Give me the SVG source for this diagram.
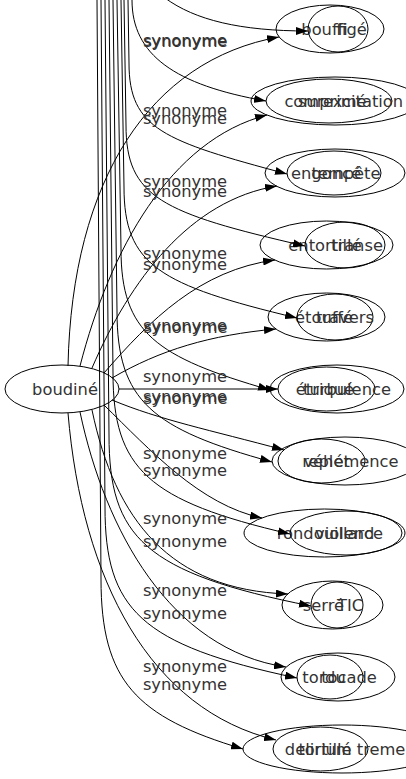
<svg xmlns="http://www.w3.org/2000/svg" width="406" height="779" viewBox="0 0 406 779">
<defs>
<marker id="ah" viewBox="0 0 12 8" refX="12" refY="4" markerWidth="12" markerHeight="8" markerUnits="userSpaceOnUse" orient="auto"><path d="M0,0 L12,4 L0,8 z" fill="#000"/></marker>
<style>
.n ellipse{fill:none;stroke:#000;stroke-width:1}
text{font-family:"DejaVu Sans",sans-serif;font-size:16.3px;fill:#333;text-anchor:middle}
#edges path{fill:none;stroke:#000;stroke-width:1;marker-end:url(#ah)}
</style>
</defs>
<rect width="406" height="779" fill="#fff"/>
<g id="nodes">
<g class="n" id="n-boudine"><ellipse cx="62" cy="389" rx="57" ry="24"/><text x="65" y="395">boudiné</text></g>
<g class="n" id="n-bouffi"><ellipse cx="330" cy="29" rx="54" ry="24"/><text x="324.5" y="35">bouffi</text></g>
<g class="n" id="n-fige"><ellipse cx="338" cy="29" rx="30" ry="23"/><text x="351.5" y="35">figé</text></g>
<g class="n" id="n-comprime"><ellipse cx="335" cy="101" rx="84" ry="24"/><text x="325.5" y="107">comprimé</text></g>
<g class="n" id="n-surexcitation"><ellipse cx="329" cy="101" rx="63" ry="22"/><text x="350.5" y="107">surexcitation</text></g>
<g class="n" id="n-engonce"><ellipse cx="335" cy="173" rx="70" ry="24"/><text x="326" y="179">engoncé</text></g>
<g class="n" id="n-tempete"><ellipse cx="334" cy="173" rx="47" ry="22"/><text x="346" y="179">tempête</text></g>
<g class="n" id="n-entortille"><ellipse cx="326.5" cy="245" rx="66.5" ry="24"/><text x="325" y="251">entortillé</text></g>
<g class="n" id="n-transe"><ellipse cx="345" cy="245" rx="40" ry="23"/><text x="357" y="251">transe</text></g>
<g class="n" id="n-etouffe"><ellipse cx="326.5" cy="317" rx="58.5" ry="24"/><text x="324" y="323">étouffé</text></g>
<g class="n" id="n-travers"><ellipse cx="335" cy="317" rx="38" ry="23"/><text x="345" y="323">travers</text></g>
<g class="n" id="n-etrique"><ellipse cx="326.5" cy="389" rx="48.5" ry="22"/><text x="325" y="395">étriqué</text></g>
<g class="n" id="n-turbulence"><ellipse cx="337" cy="389" rx="67" ry="24"/><text x="347" y="395">turbulence</text></g>
<g class="n" id="n-replet"><ellipse cx="321.5" cy="461" rx="43.5" ry="22"/><text x="326" y="467">replet</text></g>
<g class="n" id="n-vehemence"><ellipse cx="345" cy="461" rx="73" ry="24"/><text x="351" y="467">véhémence</text></g>
<g class="n" id="n-rondouillard"><ellipse cx="324.5" cy="533" rx="80.5" ry="24"/><text x="325.5" y="539">rondouillard</text></g>
<g class="n" id="n-violence"><ellipse cx="346" cy="533" rx="56" ry="22"/><text x="349" y="539">violence</text></g>
<g class="n" id="n-serre"><ellipse cx="332.5" cy="605" rx="50.5" ry="24"/><text x="323.5" y="611">serré</text></g>
<g class="n" id="n-tic"><ellipse cx="337" cy="605" rx="26" ry="23"/><text x="350" y="611">TIC</text></g>
<g class="n" id="n-tordu"><ellipse cx="338" cy="677" rx="57" ry="24"/><text x="324" y="683">tordu</text></g>
<g class="n" id="n-tocade"><ellipse cx="330" cy="677" rx="33" ry="22"/><text x="349" y="683">tocade</text></g>
<g class="n" id="n-tortille"><ellipse cx="320.5" cy="749" rx="47.5" ry="22"/><text x="325" y="755">tortillé</text></g>
<g class="n" id="n-delirium"><ellipse cx="342" cy="749" rx="99" ry="24"/><text x="354.5" y="755">delirium tremens</text></g>
</g>
<g id="edges">
<path d="M68,366 C72,180 150,60 279,37"/>
<path d="M80,366 C110,250 170,140 267,115"/>
<path d="M92,368 C130,280 190,200 277,186"/>
<path d="M104,373 C150,320 200,270 275,260"/>
<path d="M112,378 C160,350 210,335 276,329"/>
<path d="M119,389 L278,389"/>
<path d="M112,400 C160,420 210,430 284,450"/>
<path d="M104,405 C150,450 200,505 262,518"/>
<path d="M92,410 C115,520 170,590 288,594"/>
<path d="M80,412 C105,530 170,650 286,667"/>
<path d="M68,413 C82,580 150,710 276,740"/>
<path d="M165,-2 C195,20 240,31 308,31"/>
<path d="M132,0 C132,55 175,85 266,101"/>
<path d="M128,0 L129,63 C129,129 164,141 287,174"/>
<path d="M124,0 L126,125 C126,197 161,213 305,246"/>
<path d="M121,0 L124,187 C124,265 159,285 297,318"/>
<path d="M117,0 L121,249 C121,333 156,357 270,390"/>
<path d="M113,0 L117,311 C117,401 152,429 272,462"/>
<path d="M109,0 L113,373 C113,469 148,501 290,534"/>
<path d="M105,0 L109,435 C109,537 144,573 311,606"/>
<path d="M101,0 L105,507 C105,609 140,645 297,678"/>
<path d="M97,0 L101,579 C101,681 136,717 243,749"/>
</g>
<g id="labels">
<text x="185" y="46">synonyme</text>
<text x="185.5" y="47">synonyme</text>
<text x="185" y="116">synonyme</text>
<text x="185" y="124">synonyme</text>
<text x="185" y="187">synonyme</text>
<text x="185" y="197">synonyme</text>
<text x="185" y="259">synonyme</text>
<text x="185" y="270">synonyme</text>
<text x="185" y="331">synonyme</text>
<text x="185.5" y="333">synonyme</text>
<text x="185" y="382">synonyme</text>
<text x="185" y="402">synonyme</text>
<text x="185.5" y="404">synonyme</text>
<text x="185" y="459">synonyme</text>
<text x="185" y="476">synonyme</text>
<text x="185" y="524">synonyme</text>
<text x="185" y="547">synonyme</text>
<text x="185" y="596">synonyme</text>
<text x="185" y="619">synonyme</text>
<text x="185" y="672">synonyme</text>
<text x="185" y="690">synonyme</text>
</g>
</svg>
